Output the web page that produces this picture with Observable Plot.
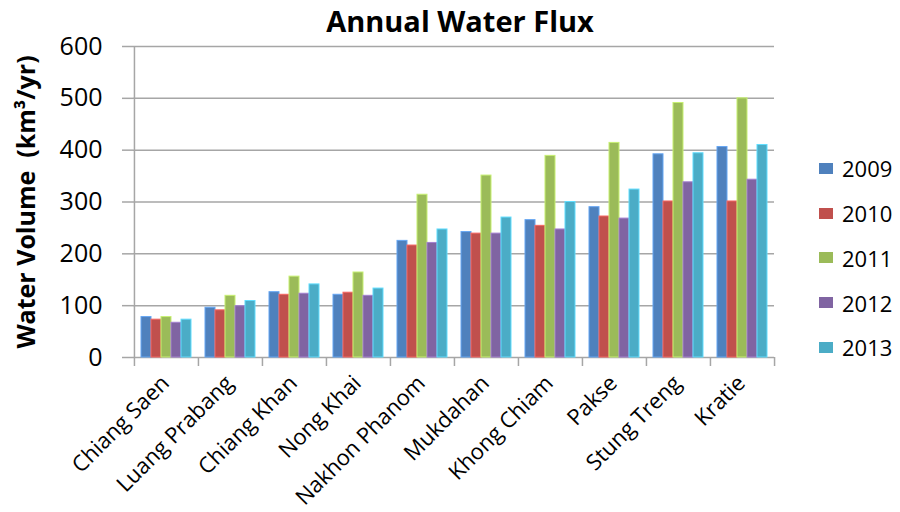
<!DOCTYPE html>
<html>
<head>
<meta charset="utf-8">
<script src="https://cdn.jsdelivr.net/npm/d3@7"></script>
<script src="https://cdn.jsdelivr.net/npm/@observablehq/plot@0.6"></script>
<style>
  body { margin: 0; background: #fff; font-family: "Open Sans", sans-serif; }
  #chart { position: relative; width: 900px; height: 512px; overflow: hidden; }
  #chart svg { position: absolute; left: 0; top: 0; }
  #legend { position: absolute; left: 819px; top: 146px; }
  .item { display: flex; align-items: center; height: 44.75px; font-size: 22px; color: #000; }
  .swatch { width: 14px; height: 11px; margin-right: 9px; }
</style>
</head>
<body>
<div id="chart"></div>
<script>
// Annual water flux at Mekong mainstream stations, km³/yr
const stations = ["Chiang Saen", "Luang Prabang", "Chiang Khan", "Nong Khai", "Nakhon Phanom",
                  "Mukdahan", "Khong Chiam", "Pakse", "Stung Treng", "Kratie"];
const years = ["2009", "2010", "2011", "2012", "2013"];
const v2009 = [78, 96, 126, 121, 225, 242, 265, 290, 392, 406];
const v2010 = [73, 91, 121, 125, 216, 239, 254, 272, 301, 301];
const v2011 = [78, 119, 156, 164, 314, 351, 389, 414, 491, 500];
const v2012 = [67, 99, 123, 119, 221, 239, 247, 268, 338, 343];
const v2013 = [73, 109, 141, 133, 247, 270, 300, 324, 394, 410];
const yTicks = [0, 100, 200, 300, 400, 500, 600];
const colors = ["#4F81BD", "#C0504D", "#9BBB59", "#8064A2", "#4BACC6"];
const titleText = "Annual Water Flux";
const yLabel = "Water Volume  (km³/yr)";

const series = [v2009, v2010, v2011, v2012, v2013];
const rows = years.flatMap((year, k) =>
  stations.map((station, i) => ({station, year, value: series[k][i]})));

const W = 900, H = 512;
const margin = {top: 46, right: 126, bottom: 155, left: 133};
const paddingInner = 0.22;
// same band layout as the x scale, used to split each band into five bars
const band = d3.scaleBand().domain(stations)
  .range([margin.left, W - margin.right])
  .paddingInner(paddingInner).paddingOuter(paddingInner / 2);
const step = band.step();
const barW = band.bandwidth() / years.length;
const grid = "#a6a6a6";

const bars = years.map((year, k) =>
  Plot.barY(rows.filter(d => d.year === year), {
    x: "station", y: "value",
    fill: colors[k],
    stroke: d3.color(colors[k]).brighter(0.7).formatHex(),
    strokeWidth: 1,
    insetLeft: k * barW,
    insetRight: (years.length - 1 - k) * barW
  }));

const chart = Plot.plot({
  width: W, height: H,
  marginTop: margin.top, marginRight: margin.right,
  marginBottom: margin.bottom, marginLeft: margin.left,
  style: {fontFamily: "'Open Sans', sans-serif", color: "#000", background: "transparent"},
  x: {domain: stations, paddingInner, paddingOuter: paddingInner / 2, label: null},
  y: {domain: [0, 600], label: null},
  marks: [
    Plot.ruleY(yTicks, {stroke: grid, strokeWidth: 1.5}),
    Plot.ruleX([stations[0]], {dx: -step / 2, y1: 0, y2: 600, stroke: grid, strokeWidth: 1.5}),
    Plot.ruleX(stations, {dx: -step / 2, y1: 0, y2: 0, insetBottom: -9, stroke: grid, strokeWidth: 1.5}),
    Plot.ruleX([stations[stations.length - 1]], {dx: step / 2, y1: 0, y2: 0, insetBottom: -9, stroke: grid, strokeWidth: 1.5}),
    ...bars,
    Plot.axisY({ticks: yTicks, tickSize: 11, tickPadding: 20, fontSize: 25, stroke: grid, strokeWidth: 1.5, fill: "#000", label: null}),
    Plot.axisX({tickSize: 0, tickPadding: 22, tickRotate: -45, fontSize: 22, dx: -1, fill: "#000", label: null}),
    Plot.text([titleText], {frameAnchor: "top", lineAnchor: "bottom", textAnchor: "middle", dx: 6, dy: -15,
      fontSize: 29, fontWeight: "bold", fill: "#000"}),
    Plot.text([yLabel], {frameAnchor: "left", lineAnchor: "middle", textAnchor: "middle", rotate: -90, dx: -107,
      fontSize: 25, fontWeight: "bold", fill: "#000"})
  ]
});

const root = document.getElementById("chart");
root.appendChild(chart);

const legend = document.createElement("div");
legend.id = "legend";
years.forEach((year, k) => {
  const item = document.createElement("div");
  item.className = "item";
  const sw = document.createElement("span");
  sw.className = "swatch";
  sw.style.background = colors[k];
  const label = document.createElement("span");
  label.textContent = year;
  item.append(sw, label);
  legend.appendChild(item);
});
root.appendChild(legend);
</script>
</body>
</html>
